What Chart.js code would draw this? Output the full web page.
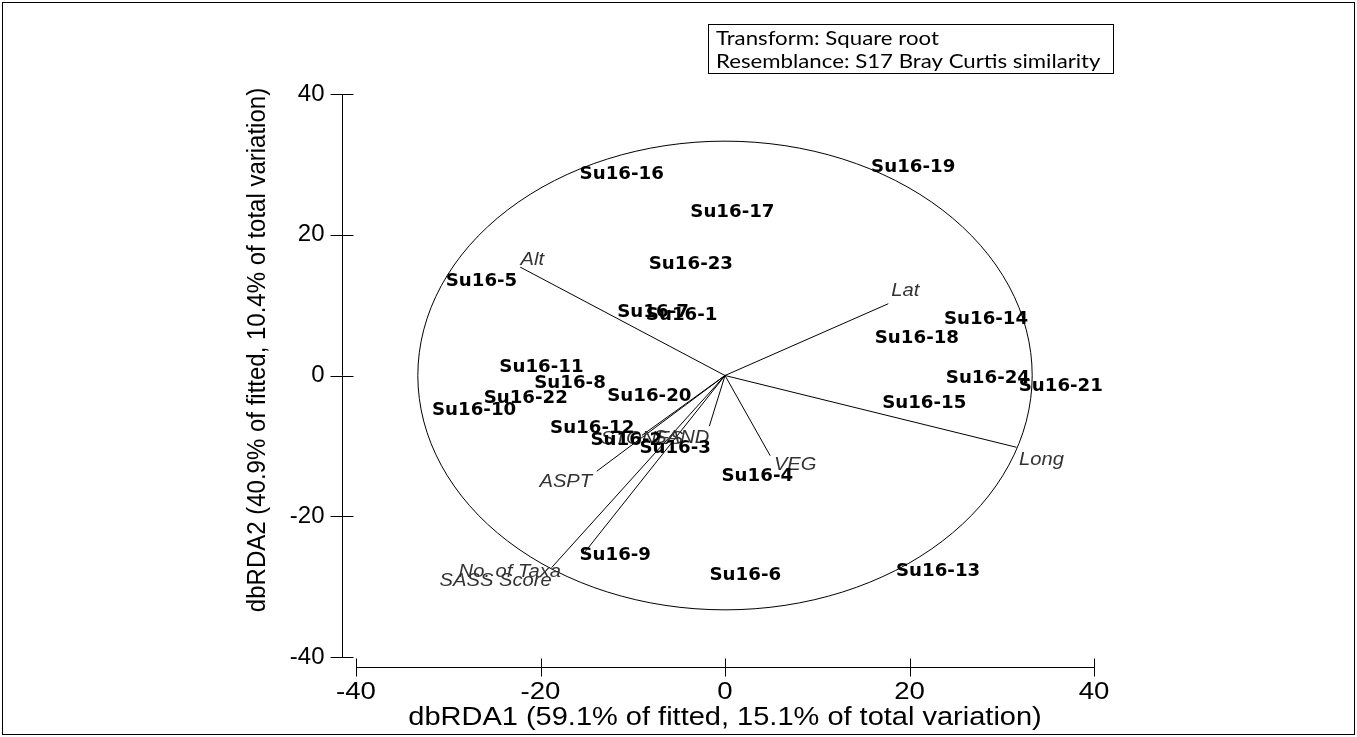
<!DOCTYPE html>
<html>
<head>
<meta charset="utf-8">
<script src="https://cdn.jsdelivr.net/npm/chart.js@4.4.0/dist/chart.umd.min.js"></script>
<style>
  html, body { margin: 0; padding: 0; background: #fff; }
  #wrap { width: 1357px; height: 737px; }
</style>
</head>
<body>
<div id="wrap"><canvas id="rdaChart" width="1357" height="737"></canvas></div>
<script>
// --- data ---
const sampleNames = ['Su16-1', 'Su16-2', 'Su16-3', 'Su16-4', 'Su16-5', 'Su16-6', 'Su16-7', 'Su16-8',
    'Su16-9', 'Su16-10', 'Su16-11', 'Su16-12', 'Su16-13', 'Su16-14', 'Su16-15', 'Su16-16',
    'Su16-17', 'Su16-18', 'Su16-19', 'Su16-20', 'Su16-21', 'Su16-22', 'Su16-23', 'Su16-24'];
const sampleX = [-4.7, -10.7, -5.4, 3.5, -26.4, 2.2, -7.8, -16.8,
    -11.9, -27.2, -19.9, -14.4, 23.1, 28.3, 21.6, -11.2,
    0.8, 20.8, 20.4, -8.2, 36.4, -21.6, -3.7, 28.5];
const sampleY = [8.5, -9.2, -10.4, -14.3, 13.3, -28.5, 9.0, -1.2,
    -25.6, -5.0, 1.1, -7.5, -27.8, 7.9, -4.0, 28.6,
    23.1, 5.2, 29.6, -3.0, -1.6, -3.3, 15.8, -0.5];

const vectorNames = ['Alt', 'Lat', 'Long', 'VEG', 'SAND', 'STONES', 'ASPT', 'No. of Taxa', 'SASS Score'];
const vectorX = [-22.2, 17.7, 31.6, 4.9, -1.7, -9.0, -13.9, -15.2, -18.8];
const vectorY = [15.4, 10.2, -10.2, -11.4, -7.2, -8.5, -13.6, -25.1, -27.3];

const xTicks = [-40, -20, 0, 20, 40];
const yTicks = [-40, -20, 0, 20, 40];
const circleRadius = 33.3;

const xTitle = 'dbRDA1 (59.1% of fitted, 15.1% of total variation)';
const yTitle = 'dbRDA2 (40.9% of fitted, 10.4% of total variation)';
const noteLines = ['Transform: Square root', 'Resemblance: S17 Bray Curtis similarity'];

// label offsets (px) for the vector names, relative to vector tips
const vectorLabelOffset = [[12, -7], [17, -13], [25, 13], [25, 9], [-28, 12], [0, 4], [-31, 11], [-75, 20], [-56, 13]];

function drawText(ctx, text, x, y, font, align, sx) {
    ctx.save();
    ctx.translate(x, y);
    ctx.scale(sx || 1, 1);
    ctx.font = font;
    ctx.textAlign = align || 'center';
    ctx.textBaseline = 'middle';
    ctx.fillText(text, 0, 0);
    ctx.restore();
}

const rdaDecor = {
    id: 'rdaDecor',
    beforeDatasetsDraw(chart) {
        const { ctx, scales: { x, y } } = chart;
        const cx = x.getPixelForValue(0), cy = y.getPixelForValue(0);
        const rx = x.getPixelForValue(circleRadius) - cx;
        const ry = cy - y.getPixelForValue(circleRadius);
        ctx.save();
        ctx.strokeStyle = '#000';
        ctx.lineWidth = 1;
        ctx.beginPath();
        ctx.ellipse(cx, cy, rx, ry, 0, 0, Math.PI * 2);
        ctx.stroke();
        ctx.restore();
    },
    afterDatasetsDraw(chart) {
        const { ctx, chartArea: area, scales: { x, y } } = chart;
        ctx.save();
        ctx.strokeStyle = '#000';
        ctx.fillStyle = '#000';
        ctx.lineWidth = 1;

        // y axis
        const ax = Math.round(area.left) + 0.5;
        ctx.beginPath();
        ctx.moveTo(ax, y.getPixelForValue(40));
        ctx.lineTo(ax, y.getPixelForValue(-40));
        yTicks.forEach(v => {
            const py = Math.round(y.getPixelForValue(v)) + 0.5;
            ctx.moveTo(ax - 12, py);
            ctx.lineTo(ax + 11, py);
        });
        ctx.stroke();
        yTicks.forEach(v => drawText(ctx, String(v), ax - 18, y.getPixelForValue(v), '24px "Liberation Sans"', 'right'));

        // x axis
        const ay = Math.round(area.bottom) + 0.5;
        ctx.beginPath();
        ctx.moveTo(x.getPixelForValue(-40), ay);
        ctx.lineTo(x.getPixelForValue(40), ay);
        xTicks.forEach(v => {
            const px = Math.round(x.getPixelForValue(v)) + 0.5;
            ctx.moveTo(px, ay - 9);
            ctx.lineTo(px, ay + 9);
        });
        ctx.stroke();
        xTicks.forEach(v => drawText(ctx, String(v), x.getPixelForValue(v), ay + 25, '24px "Liberation Sans"', 'center', 1.15));

        // axis titles
        drawText(ctx, xTitle, x.getPixelForValue(0), ay + 51, '25px "Liberation Sans"', 'center', 1.16);
        ctx.save();
        ctx.translate(258, 350);
        ctx.rotate(-Math.PI / 2);
        drawText(ctx, yTitle, 0, 0, '25px "Liberation Sans"', 'center', 0.96);
        ctx.restore();

        // vector labels
        ctx.fillStyle = '#333';
        vectorNames.forEach((name, i) => {
            const px = x.getPixelForValue(vectorX[i]) + vectorLabelOffset[i][0];
            const py = y.getPixelForValue(vectorY[i]) + vectorLabelOffset[i][1];
            drawText(ctx, name, px, py, 'italic 18px "Liberation Sans"', 'center', 1.12);
        });

        // sample labels
        ctx.fillStyle = '#000';
        const meta = chart.getDatasetMeta(0);
        meta.data.forEach((pt, i) => {
            drawText(ctx, sampleNames[i], pt.x, pt.y, 'bold 17px "DejaVu Sans"', 'center', 1.07);
        });

        // transform note box
        ctx.strokeRect(708.5, 24.5, 405, 49);
        noteLines.forEach((t, i) => drawText(ctx, t, 716, 39 + i * 23, '19px Lato', 'left', 1.17));

        // outer frame
        ctx.strokeRect(2.5, 2.5, 1352, 732);
        ctx.restore();
    }
};

const samplePoints = sampleX.map((v, i) => ({ x: v, y: sampleY[i] }));
const vectorSets = vectorNames.map((name, i) => ({
    label: name,
    data: [{ x: 0, y: 0 }, { x: vectorX[i], y: vectorY[i] }],
    showLine: true,
    borderColor: '#000',
    borderWidth: 1,
    pointRadius: 0
}));

const ctxRda = document.getElementById('rdaChart').getContext('2d');
new Chart(ctxRda, {
    type: 'scatter',
    data: {
        datasets: [
            { label: 'Samples', data: samplePoints, pointRadius: 0, showLine: false },
            ...vectorSets
        ]
    },
    options: {
        responsive: false,
        animation: false,
        clip: false,
        layout: { padding: { left: 342, right: 263, top: 94, bottom: 70 } },
        scales: {
            x: { type: 'linear', display: false, min: -41.52, max: 40 },
            y: { type: 'linear', display: false, min: -41.42, max: 40 }
        },
        plugins: {
            legend: { display: false },
            tooltip: { enabled: false }
        }
    },
    plugins: [rdaDecor]
});
</script>
</body>
</html>
